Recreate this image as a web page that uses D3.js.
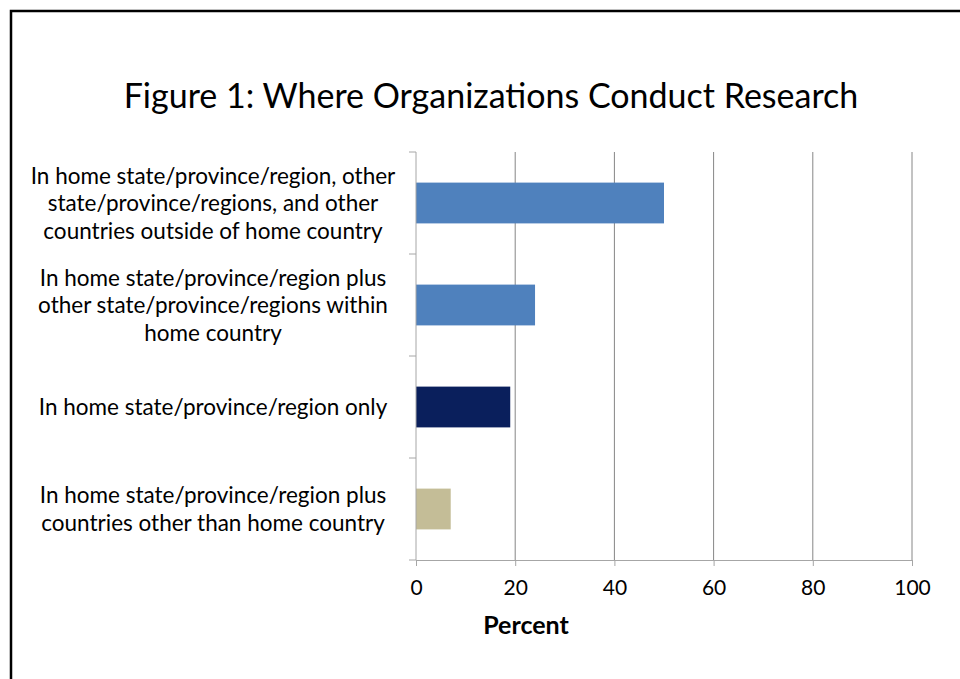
<!DOCTYPE html>
<html>
<head>
<meta charset="utf-8">
<script src="https://cdn.jsdelivr.net/npm/d3@7"></script>
<style>
  html, body { margin: 0; padding: 0; background: #fff; }
  svg { display: block; }
  text { font-family: Lato, "Open Sans", sans-serif; fill: #000; }
</style>
</head>
<body>
<svg id="chart" width="960" height="679"></svg>
<script>
const title = "Figure 1: Where Organizations Conduct Research";
const categories = [
  ["In home state/province/region, other", "state/province/regions, and other", "countries outside of home country"],
  ["In home state/province/region plus", "other state/province/regions within", "home country"],
  ["In home state/province/region only"],
  ["In home state/province/region plus", "countries other than home country"]
];
const values = [50, 24, 19, 7];
const barColors = ["#4F81BD", "#4F81BD", "#0A1F5C", "#C4BD97"];
const xTicks = [0, 20, 40, 60, 80, 100];
const xAxisTitle = "Percent";

(function () {
const svg = d3.select("#chart");

// frame
svg.append("path")
  .attr("d", "M11,679 V11 H960")
  .attr("fill", "none").attr("stroke", "#000").attr("stroke-width", 2.5);

const pLeft = 416, pRight = 912, pTop = 152, pBottom = 560;
const x = d3.scaleLinear().domain([0, 100]).range([pLeft, pRight]);
const y = d3.scaleBand().domain(d3.range(categories.length)).range([pTop, pBottom]).paddingInner(0.6).paddingOuter(0.3);

// title
svg.append("text").attr("x", 491).attr("y", 108).attr("text-anchor", "middle")
  .style("font-size", "34px").text(title);

// gridlines
svg.append("g").selectAll("line").data(xTicks.filter(d => d > 0)).join("line")
  .attr("x1", d => x(d)).attr("x2", d => x(d))
  .attr("y1", pTop).attr("y2", pBottom)
  .attr("stroke", "#868686").attr("stroke-width", 1);

// bars
svg.append("g").selectAll("rect").data(values).join("rect")
  .attr("x", x(0)).attr("y", (d, i) => y(i))
  .attr("width", d => x(d) - x(0)).attr("height", y.bandwidth())
  .attr("fill", (d, i) => barColors[i]);

// x axis
const xAxis = d3.axisBottom(x).tickValues(xTicks).tickSize(6).tickPadding(14).tickFormat(d3.format("d"));
const gx = svg.append("g").attr("transform", `translate(0,${pBottom})`).call(xAxis);
gx.select(".domain").attr("stroke", "#a6a6a6").attr("d", `M${pLeft},0.5H${pRight}`);
gx.selectAll(".tick line").attr("stroke", "#a6a6a6");
gx.selectAll(".tick text").style("font-size", "21px").style("font-family", "Lato, sans-serif").attr("fill", "#000");

// y axis line + ticks at band edges
const edgeScale = d3.scaleLinear().domain([0, categories.length]).range([pTop, pBottom]);
svg.append("line").attr("x1", pLeft).attr("x2", pLeft).attr("y1", pTop).attr("y2", pBottom)
  .attr("stroke", "#a6a6a6");
svg.append("g").selectAll("line").data(d3.range(categories.length + 1)).join("line")
  .attr("x1", pLeft - 7).attr("x2", pLeft)
  .attr("y1", d => edgeScale(d)).attr("y2", d => edgeScale(d))
  .attr("stroke", "#a6a6a6");

// category labels
const lineH = 27.5;
const lg = svg.append("g");
categories.forEach((lines, i) => {
  const cy = y(i) + y.bandwidth() / 2;
  const t = lg.append("text").attr("x", 213).attr("text-anchor", "middle")
    .style("font-size", "22.5px");
  lines.forEach((ln, j) => {
    t.append("tspan").attr("x", 213)
      .attr("y", cy + (j - (lines.length - 1) / 2) * lineH + 8)
      .text(ln);
  });
});

// x axis title
svg.append("text").attr("x", 526).attr("y", 634).attr("text-anchor", "middle")
  .style("font-size", "25px").style("font-weight", "bold").text(xAxisTitle);
})();
</script>
</body>
</html>
